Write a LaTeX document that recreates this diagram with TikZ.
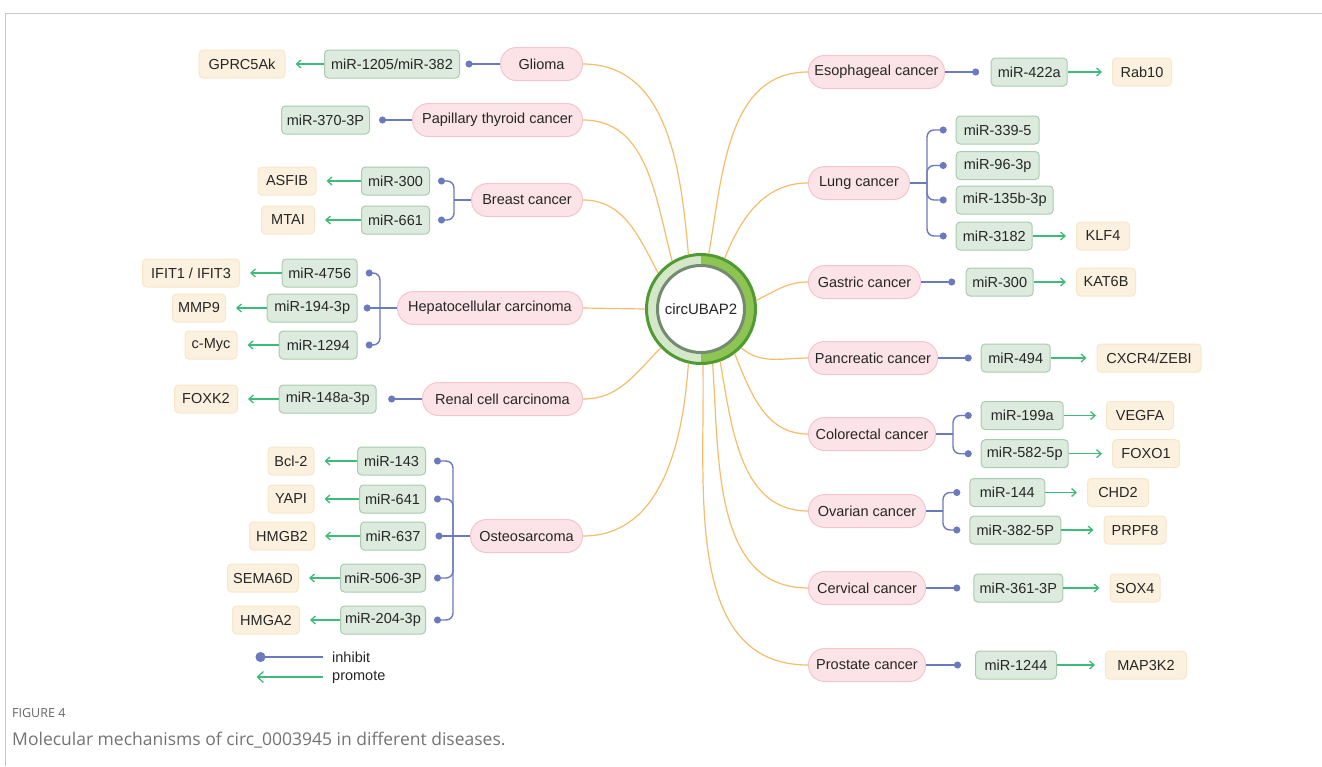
\documentclass[tikz,border=0pt]{standalone}
\usepackage{fontspec}
\setmainfont{Liberation Sans}
\newfontfamily\capfont{Open Sans}
\usetikzlibrary{arrows.meta}

\definecolor{dispink}{HTML}{FBE3E7}
\definecolor{disline}{HTML}{F5C5CD}
\definecolor{mirfill}{HTML}{DCEBDD}
\definecolor{mirline}{HTML}{A8CCAD}
\definecolor{tgtfill}{HTML}{FCF0DE}
\definecolor{tgtline}{HTML}{F8E6CB}
\definecolor{inhcol}{HTML}{6B79BD}
\definecolor{procol}{HTML}{3DBB78}
\definecolor{linkcol}{HTML}{F3BD6C}
\definecolor{ringdark}{HTML}{4F9A32}
\definecolor{ringlight}{HTML}{D4E8C9}
\definecolor{ringmid}{HTML}{8DC452}
\definecolor{ringin}{HTML}{748B72}

\begin{document}
\begin{tikzpicture}[x=1pt,y=1pt,font=\fontsize{14.5}{17}\selectfont,
  dis/.style={draw=disline,fill=dispink,line width=1pt,rounded corners=16pt,minimum height=33pt,inner xsep=2pt,text=black!85},
  mir/.style={draw=mirline,fill=mirfill,line width=1pt,rounded corners=4pt,minimum height=28pt,inner xsep=2pt,text=black!85},
  tgt/.style={draw=tgtline,fill=tgtfill,line width=1pt,rounded corners=4pt,minimum height=28pt,inner xsep=2pt,text=black!85},
  link/.style={draw=linkcol,line width=1.2pt},
  inh/.style={draw=inhcol,line width=1.4pt,rounded corners=7pt,-{Circle[length=7pt]},shorten >=9pt},
  inhline/.style={draw=inhcol,line width=1.4pt},
  pro/.style={draw=procol,line width=1.3pt,-{Straight Barb[length=4.5pt,width=8pt]},shorten >=10pt}]
  \useasboundingbox (0,0) rectangle (1322,-766);
  % frame
  \draw[black!22,line width=1pt] (5,-766) -- (5,-13) -- (1322,-13);

  % hub
  \node[circle,minimum size=109pt,inner sep=0pt,fill=ringlight,draw=ringdark,line width=3pt,
    path picture={\fill[ringmid] (path picture bounding box.north) rectangle (path picture bounding box.south east);}] (hub) at (701,-309) {};
  \node[circle,minimum size=87pt,inner sep=0pt,fill=white,draw=ringin,line width=3pt,text=black!85,font=\fontsize{15}{18}\selectfont] (core) at (hub) {circUBAP2};

  % diseases
  \foreach \n/\y/\w/\t in {gli/64/82/Glioma, pap/120/170/Papillary thyroid cancer, bre/200/111/Breast cancer,
      hep/308/185/Hepatocellular carcinoma, ren/399/160/Renal cell carcinoma, ost/536/112/Osteosarcoma}
    \node[dis,anchor=east,minimum width=\w pt] (\n) at (583,-\y) {\t};
  \foreach \n/\y/\w/\t in {eso/72/136/Esophageal cancer, lun/183/101/Lung cancer, gas/282/112/Gastric cancer,
      pan/358/129/Pancreatic cancer, col/434/127/Colorectal cancer, ova/511/117/Ovarian cancer,
      cer/588/117/Cervical cancer, prs/665/117/Prostate cancer}
    \node[dis,anchor=west,minimum width=\w pt] (\n) at (808,-\y) {\t};

  % links to the hub
  \foreach \n/\a/\o in {gli/103/95, pap/121/105, bre/140/118, ren/224/225, ost/257/266}
    \draw[link] (hub.\a) to[out=\o,in=0] (\n.east);
  \draw[link] (hub.west) -- (hep.east);
  \foreach \n/\a/\o in {eso/82/80, lun/65/68, gas/9/25, pan/316/320, col/307/292, ova/290/280, cer/282/274, prs/272/271}
    \draw[link] (hub.\a) to[out=\o,in=180] (\n.west);

  % miRNAs
  \foreach \n/\x/\y/\w/\t in {m1/460/64/135/{miR-1205/miR-382}, m2/370/120/88/miR-370-3P, m3/430/181/68/miR-300,
      m4/430/220/68/miR-661, m5/357.7/273/75/miR-4756, m6/357.7/308/90/miR-194-3p, m7/357.7/345/78/miR-1294,
      m8/376.7/399/97/miR-148a-3p, m9/426/461/68/miR-143, m10/426/499/66/miR-641, m11/426/536/65/miR-637,
      m12/426/578/85/miR-506-3P, m13/426/620/85/miR-204-3p}
    \node[mir,anchor=east,minimum width=\w pt] (\n) at (\x,-\y) {\t};
  \foreach \n/\x/\y/\w/\t in {r1/990.7/72/76/miR-422a, r2/955.7/130/83/miR-339-5, r3/955.7/165.5/83/miR-96-3p,
      r4/955.7/200/97/miR-135b-3p, r5/955.7/236/76/miR-3182, r6/965.7/282/67/miR-300, r7/980.7/358/69/miR-494,
      r8/980.7/415.5/82/miR-199a, r9/980.7/453.7/87/miR-582-5p, r10/969.3/492.5/75/miR-144,
      r11/969.3/530/91/miR-382-5P, r12/973.3/588/89/miR-361-3P, r13/975/665/81/miR-1244}
    \node[mir,anchor=west,minimum width=\w pt] (\n) at (\x,-\y) {\t};

  % targets
  \foreach \n/\x/\y/\w/\t in {t1/242/64/86/GPRC5Ak, t3/287/181/58/ASFIB, t4/288/220/53/MTAI, t5/191/273/97/{IFIT1 / IFIT3},
      t6/199/308/53/MMP9, t7/211/345/52/c-Myc, t8/206/399/63/FOXK2, t9/291/461/46/Bcl-2, t10/291/499/46/YAPI,
      t11/282/536/65/HMGB2, t12/263/578/71/SEMA6D, t13/266/620/67/HMGA2,
      u1/1142/72/59/Rab10, u5/1103/236/53/KLF4, u6/1106/282/59/KAT6B, u7/1149/358/104/{CXCR4/ZEBI},
      u8/1140/415.5/67/VEGFA, u9/1146/453.7/67/FOXO1, u10/1118/492.5/61/CHD2, u11/1135/530/62/PRPF8,
      u12/1135/588/50/SOX4, u13/1146/665/81/MAP3K2}
    \node[tgt,minimum width=\w pt] (\n) at (\x,-\y) {\t};

  % inhibit, single
  \foreach \a/\b/\g in {gli/m1/5.5, pap/m2/9, ren/m8/11.5}
    \draw[inh,shorten >=\g pt] (\a.west) -- (\b.east);
  \foreach \a/\b/\g in {eso/r1/11.5, gas/r6/10.5, pan/r7/9, cer/r12/13, prs/r13/14}
    \draw[inh,shorten >=\g pt] (\a.east) -- (\b.west);

  % inhibit, brackets
  \coordinate (brej) at ([xshift=-17pt]bre.west);
  \coordinate (hepj) at ([xshift=-17pt]hep.west);
  \coordinate (ostj) at ([xshift=-17pt]ost.west);
  \coordinate (lunj) at ([xshift=17pt]lun.east);
  \coordinate (colj) at ([xshift=17pt]col.east);
  \coordinate (ovaj) at ([xshift=17pt]ova.east);
  \draw[inhline] (bre.west) -- (brej);
  \draw[inhline] (hep.west) -- (hepj);
  \draw[inhline] (ost.west) -- (ostj);
  \draw[inhline] (lun.east) -- (lunj);
  \draw[inhline] (col.east) -- (colj);
  \draw[inhline] (ova.east) -- (ovaj);
  \foreach \j/\b in {brej/m3, brej/m4, hepj/m5, hepj/m7, ostj/m9, ostj/m10, ostj/m12, ostj/m13}
    \draw[inh,shorten >=8pt] (\j) |- (\b.east);
  \draw[inh,shorten >=6pt] (hepj) -- (m6.east);
  \draw[inh,shorten >=9.5pt] (ostj) -- (m11.east);
  \foreach \j/\b in {lunj/r2, lunj/r3, lunj/r4, lunj/r5, colj/r8, colj/r9, ovaj/r10, ovaj/r11}
    \draw[inh,shorten >=9pt] (\j) |- (\b.west);

  % promote
  \foreach \a/\b in {m1/t1, m3/t3, m4/t4, m5/t5, m6/t6, m7/t7, m8/t8, m9/t9, m10/t10, m11/t11, m12/t12, m13/t13}
    \draw[pro] (\a.west) -- (\b.east);
  \foreach \a/\b in {r1/u1, r5/u5, r6/u6, r7/u7, r8/u8, r9/u9, r10/u10, r11/u11, r12/u12, r13/u13}
    \draw[pro] (\a.east) -- (\b.west);

  % legend
  \coordinate (ia) at (323,-657);
  \coordinate (ib) at (255.5,-657);
  \coordinate (pa) at (323,-677);
  \coordinate (pb) at (256.5,-677);
  \draw[inhline,-{Circle[length=10pt]}] (ia) -- (ib);
  \draw[pro,shorten >=0pt,-{Straight Barb[length=6pt,width=11pt]}] (pa) -- (pb);
  \node[anchor=west,inner sep=0pt,text=black!85] (inhtxt) at (332,-657) {inhibit};
  \node[anchor=west,inner sep=0pt,text=black!85] (protxt) at (332,-677) {promote};

  % caption
  \node[anchor=west,inner sep=0pt,text=black!60,font=\capfont\fontsize{12.5}{15}\selectfont] (fignum) at (12,-713) {FIGURE 4};
  \node[anchor=west,inner sep=0pt,text=black!55,font=\capfont\fontsize{17.5}{21}\selectfont] (figcap) at (12,-740) {Molecular mechanisms of circ\_0003945 in different diseases.};
\end{tikzpicture}
\end{document}
